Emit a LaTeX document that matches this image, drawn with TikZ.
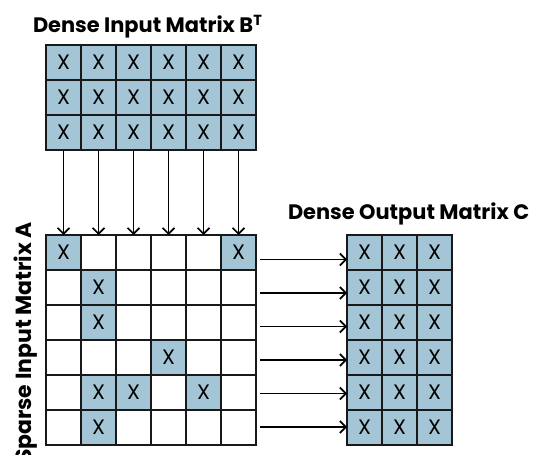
\documentclass[tikz,border=0pt]{standalone}
\usepackage{fontspec}
\setmainfont{Poppins}
\usetikzlibrary{arrows.meta}
\definecolor{cellblue}{RGB}{164,197,213}
\begin{document}
\begin{tikzpicture}[x=1bp,y=-1bp,inner sep=0pt,outer sep=0pt,
cell/.style={draw=black!90,rectangle,minimum width=35bp,minimum height=35bp,line width=1.6bp,font=\fontsize{21}{21}\selectfont},
nzcell/.style={cell,fill=cellblue},
title/.style={font=\fontsize{21}{21}\selectfont\bfseries},
flow/.style={-{Straight Barb[length=6bp,width=12bp]},line width=1.6bp}]
\useasboundingbox (0,0) rectangle (533,455);
% dense input B^T
\foreach \r in {1,...,3}
  \foreach \c in {1,...,6}
    \draw (28.5+35*\c,27.5+35*\r) node[nzcell] (B-\r-\c) {X};
% sparse input A
\foreach \r in {1,...,6}
  \foreach \c in {1,...,6}
    \draw (28.5+35*\c,217.5+35*\r) node[cell] (A-\r-\c) {};
\foreach \r/\c in {1/1,1/6,2/2,3/2,4/4,5/2,5/3,5/5,6/2}
  \draw (A-\r-\c) node[nzcell] (Anz-\r-\c) {X};
% dense output C
\foreach \r in {1,...,6}
  \foreach \c in {1,...,3}
    \draw (329.5+35*\c,217.5+35*\r) node[nzcell] (C-\r-\c) {X};
% labels
\draw (33,33) node[title,anchor=base west] (titleB) {Dense Input Matrix B\textsuperscript{T}};
\draw (288,220) node[title,anchor=base west] (titleC) {Dense Output Matrix C};
\draw (31,222) node[title,anchor=base east,rotate=90,font=\fontsize{22}{22}\selectfont\bfseries] (titleA) {Sparse Input Matrix A};
% arrows
\foreach \c in {1,...,6}
  \draw[flow] (B-3-\c.south) -- (A-1-\c.north);
\foreach \r [evaluate=\r as \d using 1.5*\r-8.5] in {1,...,6}
  \draw[flow] ([xshift=4bp,yshift=\d bp]A-\r-6.east) -- ([yshift=\d bp]C-\r-1.west);
\end{tikzpicture}
\end{document}
